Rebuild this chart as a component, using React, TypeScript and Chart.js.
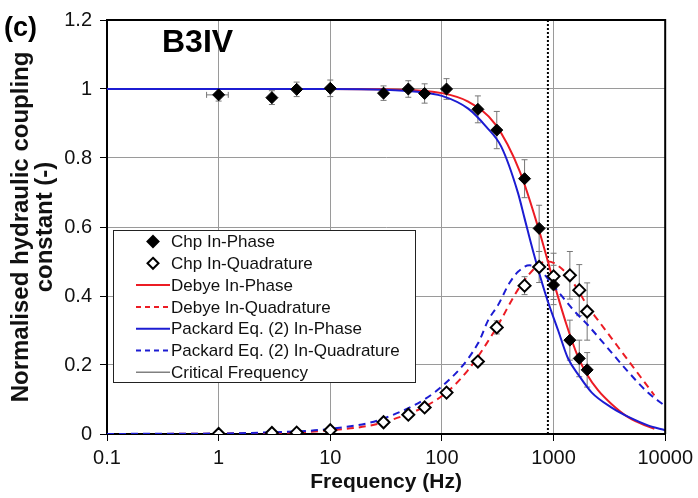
import React, { useEffect, useRef } from 'react';
import { Chart, registerables } from 'chart.js';

Chart.register(...registerables);

// ---- Measured data (Chp) ----
const chpFreq = [1, 3, 5, 10, 30, 50, 70, 110, 210, 310, 550, 743, 1000, 1400, 1700, 2000];
const chpInPhase = [0.983, 0.975, 0.999, 1.002, 0.988, 1.0, 0.987, 1.0, 0.941, 0.881, 0.74, 0.596, 0.432, 0.272, 0.219, 0.186];
const chpInPhaseErr = [0.018, 0.02, 0.021, 0.024, 0.021, 0.024, 0.028, 0.03, 0.039, 0.054, 0.055, 0.067, 0.057, 0.058, 0.053, 0.05];
const chpInPhaseXErr = [0.22, 0, 0, 0, 0, 0, 0, 0, 0, 0, 0, 0, 0, 0, 0, 0];
const chpQuad = [0.0, 0.003, 0.004, 0.011, 0.034, 0.056, 0.077, 0.12, 0.21, 0.309, 0.43, 0.484, 0.457, 0.46, 0.417, 0.355];
const chpQuadErr = [0, 0, 0, 0, 0, 0, 0, 0, 0.008, 0.019, 0.026, 0.045, 0.067, 0.069, 0.074, 0.083];

// ---- Debye model ----
const debyeFreq = [0.1, 1, 10, 30, 100, 170, 300, 500, 750, 890, 1000, 1300, 1650, 2000, 2500, 3300, 4500, 6000, 8000];
const debyeInPhase = [1, 1, 1, 0.999, 0.988, 0.964, 0.898, 0.76, 0.585, 0.5, 0.442, 0.319, 0.225, 0.172, 0.127, 0.087, 0.052, 0.031, 0.015];
const debyeQuad = [0.0001, 0.0011, 0.011, 0.034, 0.11, 0.184, 0.302, 0.427, 0.493, 0.5, 0.496, 0.466, 0.418, 0.372, 0.33, 0.278, 0.22, 0.166, 0.112];

// ---- Packard Eq. (2) model ----
const packardPhaseFreq = [0.1, 1, 10, 30, 60, 100, 172, 250, 340, 480, 550, 653, 857, 1100, 1340, 1700, 2200, 3260, 5000, 7000, 10000];
const packardInPhase = [1, 1, 1, 0.998, 0.992, 0.98, 0.943, 0.89, 0.833, 0.699, 0.625, 0.532, 0.4, 0.3, 0.221, 0.168, 0.12, 0.078, 0.045, 0.025, 0.011];
const packardQuadFreq = [0.1, 1, 3, 10, 30, 100, 210, 260, 320, 400, 480, 608, 750, 890, 1100, 1500, 2000, 3040, 4580, 7000, 10000];
const packardQuad = [0.0002, 0.0015, 0.005, 0.015, 0.045, 0.138, 0.262, 0.33, 0.375, 0.436, 0.47, 0.489, 0.478, 0.45, 0.413, 0.36, 0.318, 0.25, 0.183, 0.12, 0.081];

// ---- Critical frequency ----
const criticalFreq = 890;
const criticalRange = [0, 1.2];

// ---- Axis ticks ----
const xTicks = [0.1, 1, 10, 100, 1000, 10000];
const xTickLabels = ['0.1', '1', '10', '100', '1000', '10000'];
const yTicks = [0, 0.2, 0.4, 0.6, 0.8, 1, 1.2];
const yTickLabels = ['0', '0.2', '0.4', '0.6', '0.8', '1', '1.2'];

const RED = '#ec1c24';
const BLUE = '#1c1cd2';
const FONT = "'Liberation Sans', Arial, Helvetica, sans-serif";

const pairs = (xs: number[], ys: number[]) => xs.map((x, i) => ({ x, y: ys[i] }));

const errorBarsPlugin = {
  id: 'errorBars',
  beforeDatasetsDraw(chart: any) {
    const { ctx, scales } = chart;
    const xs = scales.x;
    const ys = scales.y;
    ctx.save();
    ctx.strokeStyle = '#777';
    ctx.lineWidth = 1;
    chart.data.datasets.forEach((ds: any) => {
      if (!ds.yErr) return;
      ds.data.forEach((p: any, i: number) => {
        const px = xs.getPixelForValue(p.x);
        const py = ys.getPixelForValue(p.y);
        const e = ds.yErr[i];
        if (e > 0) {
          const y1 = ys.getPixelForValue(p.y - e);
          const y2 = ys.getPixelForValue(p.y + e);
          ctx.beginPath();
          ctx.moveTo(px, y1); ctx.lineTo(px, y2);
          ctx.moveTo(px - 3, y1); ctx.lineTo(px + 3, y1);
          ctx.moveTo(px - 3, y2); ctx.lineTo(px + 3, y2);
          ctx.stroke();
        }
        const xe = ds.xErr ? ds.xErr[i] : 0;
        if (xe > 0) {
          const x1 = xs.getPixelForValue(p.x - xe);
          const x2 = xs.getPixelForValue(p.x + xe);
          ctx.beginPath();
          ctx.moveTo(x1, py); ctx.lineTo(x2, py);
          ctx.moveTo(x1, py - 3); ctx.lineTo(x1, py + 3);
          ctx.moveTo(x2, py - 3); ctx.lineTo(x2, py + 3);
          ctx.stroke();
        }
      });
    });
    ctx.restore();
  },
};

const framePlugin = {
  id: 'frameAndText',
  afterDraw(chart: any) {
    const { ctx, chartArea } = chart;
    const { left, top, right, bottom } = chartArea;
    ctx.save();
    // frame
    ctx.strokeStyle = '#000';
    ctx.lineWidth = 2;
    ctx.beginPath();
    ctx.moveTo(left, top);
    ctx.lineTo(right, top);
    ctx.lineTo(right, bottom);
    ctx.stroke();

    // legend
    const lx = left + 6;
    const ly = top + 210;
    const lw = 302;
    const lh = 152;
    ctx.fillStyle = '#fff';
    ctx.fillRect(lx, ly, lw, lh);
    ctx.strokeStyle = '#222';
    ctx.lineWidth = 1;
    ctx.strokeRect(lx + 0.5, ly + 0.5, lw, lh);
    ctx.font = `17px ${FONT}`;
    ctx.textBaseline = 'middle';
    ctx.textAlign = 'left';
    chart.data.datasets.forEach((ds: any, i: number) => {
      const cy = ly + 11.5 + i * 21.8;
      const sx1 = lx + 23;
      const sx2 = lx + 57;
      if (ds.legendKind === 'marker') {
        const cx = (sx1 + sx2) / 2;
        const r = 5.5;
        ctx.beginPath();
        ctx.moveTo(cx, cy - r);
        ctx.lineTo(cx + r, cy);
        ctx.lineTo(cx, cy + r);
        ctx.lineTo(cx - r, cy);
        ctx.closePath();
        ctx.fillStyle = ds.pointBackgroundColor;
        ctx.fill();
        ctx.strokeStyle = '#000';
        ctx.lineWidth = 2;
        ctx.stroke();
      } else {
        ctx.beginPath();
        ctx.setLineDash(ds.legendDash || []);
        ctx.strokeStyle = ds.legendColor || ds.borderColor;
        ctx.lineWidth = ds.legendWidth || 2;
        ctx.moveTo(sx1, cy);
        ctx.lineTo(sx2, cy);
        ctx.stroke();
        ctx.setLineDash([]);
      }
      ctx.fillStyle = '#111';
      ctx.fillText(ds.label, lx + 58, cy + 1);
    });

    // panel label and title
    ctx.fillStyle = '#000';
    ctx.textBaseline = 'alphabetic';
    ctx.font = `bold 27px ${FONT}`;
    ctx.fillText('(c)', 4, 36);
    ctx.font = `bold 32px ${FONT}`;
    ctx.fillText('B3IV', 162, 52);
    ctx.restore();
  },
};

export default function App() {
  const canvasRef = useRef<HTMLCanvasElement | null>(null);

  useEffect(() => {
    if (!canvasRef.current) return;
    const chart = new Chart(canvasRef.current, {
      type: 'scatter',
      data: {
        datasets: [
          {
            label: 'Chp In-Phase',
            data: pairs(chpFreq, chpInPhase),
            yErr: chpInPhaseErr,
            xErr: chpInPhaseXErr,
            legendKind: 'marker',
            pointStyle: 'rectRot',
            pointRadius: 6,
            pointBackgroundColor: '#000',
            pointBorderColor: '#000',
            pointBorderWidth: 1,
            showLine: false,
            order: 0,
          } as any,
          {
            label: 'Chp In-Quadrature',
            data: pairs(chpFreq, chpQuad),
            yErr: chpQuadErr,
            legendKind: 'marker',
            pointStyle: 'rectRot',
            pointRadius: 6,
            pointBackgroundColor: '#fff',
            pointBorderColor: '#000',
            pointBorderWidth: 2,
            showLine: false,
            order: 1,
          } as any,
          {
            label: 'Debye In-Phase',
            data: pairs(debyeFreq, debyeInPhase),
            showLine: true,
            borderColor: RED,
            borderWidth: 2,
            pointRadius: 0,
            cubicInterpolationMode: 'monotone',
            order: 4,
          } as any,
          {
            label: 'Debye In-Quadrature',
            data: pairs(debyeFreq, debyeQuad),
            showLine: true,
            borderColor: RED,
            borderWidth: 2,
            borderDash: [7, 5],
            legendDash: [5, 4],
            pointRadius: 0,
            cubicInterpolationMode: 'monotone',
            order: 5,
          } as any,
          {
            label: 'Packard Eq. (2) In-Phase',
            data: pairs(packardPhaseFreq, packardInPhase),
            showLine: true,
            borderColor: BLUE,
            borderWidth: 2,
            pointRadius: 0,
            cubicInterpolationMode: 'monotone',
            order: 2,
          } as any,
          {
            label: 'Packard Eq. (2) In-Quadrature',
            data: pairs(packardQuadFreq, packardQuad),
            showLine: true,
            borderColor: BLUE,
            borderWidth: 2,
            borderDash: [7, 5],
            legendDash: [5, 4],
            pointRadius: 0,
            cubicInterpolationMode: 'monotone',
            order: 3,
          } as any,
          {
            label: 'Critical Frequency',
            data: criticalRange.map((y) => ({ x: criticalFreq, y })),
            showLine: true,
            borderColor: '#000',
            borderWidth: 2,
            borderDash: [2, 2],
            legendColor: '#808080',
            legendWidth: 1.5,
            pointRadius: 0,
            order: 6,
          } as any,
        ],
      },
      options: {
        responsive: false,
        animation: false,
        layout: { padding: { top: 15, right: 30, left: 0, bottom: 0 } },
        plugins: {
          legend: { display: false },
          tooltip: { enabled: false },
        },
        scales: {
          x: {
            type: 'logarithmic',
            min: 0.1,
            max: 10000,
            afterFit: (s: any) => { s.height = 64; },
            afterBuildTicks: (s: any) => { s.ticks = xTicks.map((v) => ({ value: v })); },
            ticks: {
              autoSkip: false,
              maxRotation: 0,
              padding: 5,
              color: '#111',
              font: { family: FONT, size: 20 },
              callback: (v: any) => {
                const i = xTicks.indexOf(Number(v));
                return i >= 0 ? xTickLabels[i] : '';
              },
            },
            grid: { color: '#9a9a9a', lineWidth: 1, tickColor: '#000', tickLength: 7 },
            border: { color: '#000', width: 2 },
            title: {
              display: true,
              text: 'Frequency (Hz)',
              color: '#111',
              font: { family: FONT, size: 21, weight: 'bold' },
              padding: { top: 0, bottom: 3 },
            },
          },
          y: {
            type: 'linear',
            min: 0,
            max: 1.2,
            afterFit: (s: any) => { s.width = 107; },
            afterBuildTicks: (s: any) => { s.ticks = yTicks.map((v) => ({ value: v })); },
            ticks: {
              padding: 8,
              color: '#111',
              font: { family: FONT, size: 20 },
              callback: (v: any) => {
                const i = yTicks.findIndex((t) => Math.abs(t - Number(v)) < 1e-9);
                return i >= 0 ? yTickLabels[i] : '';
              },
            },
            grid: { color: '#9a9a9a', lineWidth: 1, tickColor: '#000', tickLength: 7 },
            border: { color: '#000', width: 2 },
            title: {
              display: true,
              text: ['Normalised hydraulic coupling', 'constant (-)'],
              color: '#111',
              font: { family: FONT, size: 24, weight: 'bold', lineHeight: 0.97 },
              padding: { top: 10, bottom: 0 },
            },
          },
        },
      },
      plugins: [errorBarsPlugin, framePlugin],
    } as any);
    return () => chart.destroy();
  }, []);

  return (
    <div style={{ position: 'fixed', left: 0, top: 0, width: 698, height: 498, background: '#fff' }}>
      <canvas ref={canvasRef} width={698} height={498} />
    </div>
  );
}
